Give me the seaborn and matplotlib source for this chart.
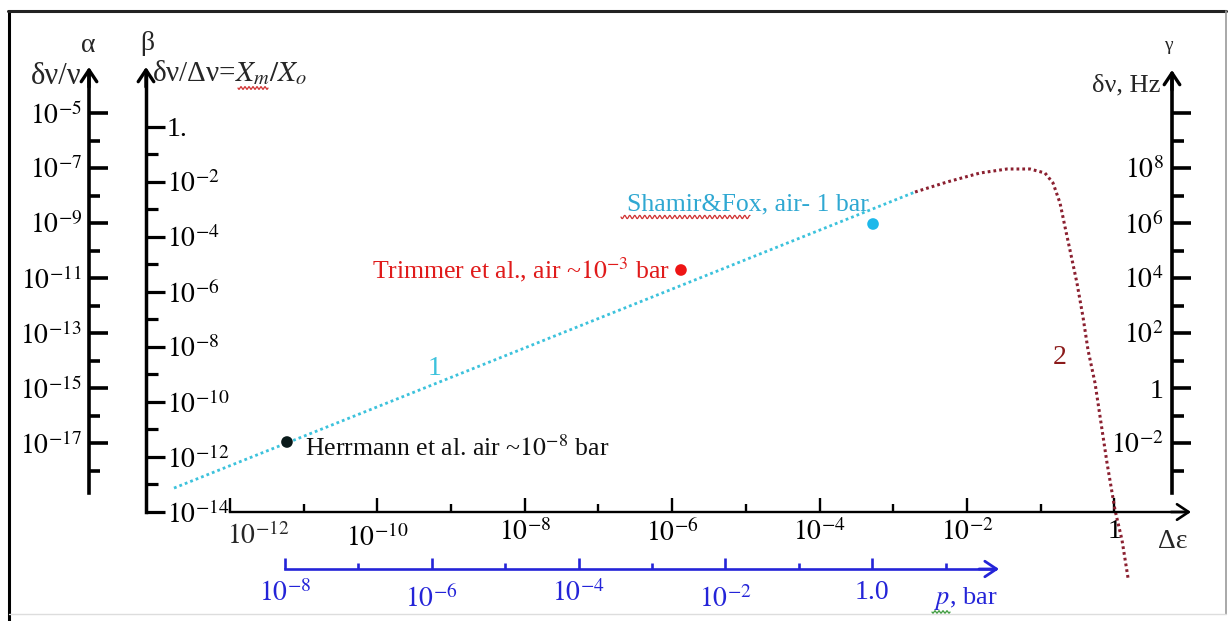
import numpy as np
import pandas as pd
import matplotlib
matplotlib.use("Agg")
import matplotlib.pyplot as plt
import seaborn as sns
from matplotlib.lines import Line2D
from matplotlib.ticker import FixedLocator, FixedFormatter, NullFormatter

# ---------------- data (log10 exponents) ----------------
line1_eps_exp = [-12.76, -2.705]
line1_beta_exp = [-13.13, -2.364]

curve2_eps_exp = [-2.705, -2.271, -1.824, -1.457, -1.145, -0.942, -0.833, -0.738,
                  -0.670, -0.603, -0.508, -0.426, -0.358, -0.263, -0.100, 0.008,
                  0.103, 0.185]
curve2_beta_exp = [-2.364, -2.000, -1.673, -1.527, -1.527, -1.673, -2.036, -2.764,
                   -3.636, -4.473, -5.673, -6.909, -8.109, -9.309, -12.218, -13.927,
                   -15.018, -16.400]

exp_names = ["Herrmann", "Trimmer", "Shamir"]
exp_eps_exp = [-11.227, -5.881, -3.275]
exp_beta_exp = [-11.455, -5.200, -3.527]
exp_labels = ["Herrmann et al. air ~$10^{-8}$ bar",
              "Trimmer et al., air ~$10^{-3}$ bar",
              "Shamir&Fox, air- 1 bar"]

eps_major_exp = [-12, -10, -8, -6, -4, -2, 0]
eps_minor_exp = [-11, -9, -7, -5, -3, -1]
eps_labels = ["", "$10^{-10}$", "$10^{-8}$", "$10^{-6}$", "$10^{-4}$", "$10^{-2}$", "1"]

beta_major_exp = [0, -2, -4, -6, -8, -10, -12, -14]
beta_minor_exp = [-1, -3, -5, -7, -9, -11, -13]
beta_labels = ["1.", "$10^{-2}$", "$10^{-4}$", "$10^{-6}$", "$10^{-8}$",
               "$10^{-10}$", "$10^{-12}$", "$10^{-14}$"]

alpha_major_exp = [-5, -7, -9, -11, -13, -15, -17]
alpha_minor_exp = [-6, -8, -10, -12, -14, -16, -18]
alpha_labels = ["$10^{-5}$", "$10^{-7}$", "$10^{-9}$", "$10^{-11}$",
                "$10^{-13}$", "$10^{-15}$", "$10^{-17}$"]

gamma_major_exp = [10, 8, 6, 4, 2, 0, -2]
gamma_minor_exp = [9, 7, 5, 3, 1, -1, -3]
gamma_labels = ["", "$10^{8}$", "$10^{6}$", "$10^{4}$", "$10^{2}$", "1", "$10^{-2}$"]

p_major_exp = [-8, -6, -4, -2, 0]
p_minor_exp = [-7, -5, -3, -1, 1]
p_labels = ["$10^{-8}$", "$10^{-6}$", "$10^{-4}$", "$10^{-2}$", "1.0"]

# ---------------- style ----------------
sns.set_theme(style="white")
plt.rcParams["font.family"] = ["Liberation Serif", "DejaVu Serif"]
plt.rcParams["mathtext.fontset"] = "stix"
plt.rcParams["axes.linewidth"] = 2.0

W, H = 1229, 621
fig = plt.figure(figsize=(W / 100, H / 100), dpi=100)
fig.patch.set_facecolor("white")

def fx(px):
    return px / W

def fy(py):
    return 1 - py / H

TICK_FS = 20
BLUE = "#2424d8"
CYAN = "#3cc2dc"
DARKRED = "#8b2030"

def arrowhead(axis, x, y, dx, dy, color="black", lw=2.4):
    axis.annotate("", xy=(x, y), xytext=(dx, dy), textcoords="offset pixels",
                  arrowprops=dict(arrowstyle="->,head_length=0.42,head_width=0.28",
                                  lw=lw, color=color, shrinkA=0, shrinkB=0,
                                  mutation_scale=20),
                  annotation_clip=False)

def wavy(x1, x2, y, color, amp=1.6, period=5.0):
    xs = np.linspace(x1, x2, int((x2 - x1) * 3) + 2)
    ys = y + amp * np.sin(2 * np.pi * (xs - x1) / period)
    fig.add_artist(Line2D(xs / W, 1 - ys / H, color=color, lw=0.9))

# ---------------- main axes: Δε (x) vs β (y) ----------------
XPD, YPD = 73.7, 27.5          # pixels per decade
x0 = -12 - 230 / XPD
y0 = -14 - (H - 512) / YPD
ax = fig.add_axes([0, 0, 1, 1])
ax.patch.set_alpha(0)
ax.set_xscale("log")
ax.set_yscale("log")
ax.set_xlim(10 ** x0, 10 ** (x0 + W / XPD))
ax.set_ylim(10 ** y0, 10 ** (y0 + H / YPD))
ax.grid(False)

eps_tip = -12 + (1191 - 230) / XPD
beta_tip = -14 + (512 - 67) / YPD
ax.spines["top"].set_visible(False)
ax.spines["left"].set_visible(False)
ax.spines["bottom"].set_position(("data", 1e-14))
ax.spines["bottom"].set_bounds(1e-12, 10 ** (eps_tip - 0.05))
ax.spines["bottom"].set_linewidth(1.7)
ax.spines["right"].set_position(("axes", 146 / W))
ax.spines["right"].set_bounds(1e-14, 10 ** (beta_tip - 0.2))
ax.spines["right"].set_linewidth(2.5)
for s in ax.spines.values():
    s.set_color("black")

ax.xaxis.set_major_locator(FixedLocator([10.0 ** e for e in eps_major_exp]))
ax.xaxis.set_major_formatter(FixedFormatter(eps_labels))
ax.xaxis.set_minor_locator(FixedLocator([10.0 ** e for e in eps_minor_exp]))
ax.xaxis.set_minor_formatter(NullFormatter())
ax.tick_params(axis="x", which="both", direction="in", bottom=True, top=False,
               width=1.7, color="black", labelsize=TICK_FS, pad=5, labelcolor="black")
ax.tick_params(axis="x", which="major", length=10)
ax.tick_params(axis="x", which="minor", length=5.5)
for i, t in enumerate(ax.xaxis.get_major_ticks()):
    t.set_pad(9 if i == 1 else 5)

ax.yaxis.tick_right()
ax.yaxis.set_major_locator(FixedLocator([10.0 ** e for e in beta_major_exp]))
ax.yaxis.set_major_formatter(FixedFormatter(beta_labels))
ax.yaxis.set_minor_locator(FixedLocator([10.0 ** e for e in beta_minor_exp]))
ax.yaxis.set_minor_formatter(NullFormatter())
ax.tick_params(axis="y", which="both", direction="out", right=True, left=False,
               labelright=True, labelleft=False, width=2.3, color="black",
               labelsize=TICK_FS, pad=1, labelcolor="black")
ax.tick_params(axis="y", which="major", length=14)
ax.tick_params(axis="y", which="minor", length=8.5)

arrowhead(ax, 10 ** eps_tip, 1e-14, -20, 0, lw=1.9)
arrowhead(ax, 10 ** (-12 - 84 / XPD), 10 ** beta_tip, 0, -20)
ax.annotate("$10^{-12}$", xy=(1e-12, 1e-14), xytext=(28, -24), textcoords="offset pixels",
            ha="center", va="center", fontsize=TICK_FS, annotation_clip=False)

# curves
df1 = pd.DataFrame({"eps": np.power(10.0, line1_eps_exp), "beta": np.power(10.0, line1_beta_exp)})
df2 = pd.DataFrame({"eps": np.power(10.0, curve2_eps_exp), "beta": np.power(10.0, curve2_beta_exp)})
sns.lineplot(data=df1, x="eps", y="beta", ax=ax, color=CYAN, lw=2.0,
             linestyle=(0, (1.0, 1.1)), estimator=None, sort=False)
sns.lineplot(data=df2, x="eps", y="beta", ax=ax, color=DARKRED, lw=2.2,
             linestyle=(0, (0.9, 1.0)), estimator=None, sort=False)
for ln in ax.get_lines():
    ln.set_clip_on(False)
    ln.set_dash_capstyle("butt")

dfp = pd.DataFrame({"eps": np.power(10.0, exp_eps_exp), "beta": np.power(10.0, exp_beta_exp),
                    "name": exp_names})
sns.scatterplot(data=dfp, x="eps", y="beta", hue="name", ax=ax, s=70, linewidth=0,
                palette={"Herrmann": "#0a1a1a", "Trimmer": "#ee1515", "Shamir": "#1db8ea"},
                legend=False, zorder=5)
ax.set_xlabel("")
ax.set_ylabel("")

txt_cfg = [((18, -6), "left", "#111111"),
           ((-11, 0), "right", "#e01b1b"),
           ((-4, 20), "right", "#2fa8d2")]
for (e, b, lab, (off, ha, col)) in zip(exp_eps_exp, exp_beta_exp, exp_labels, txt_cfg):
    ax.annotate(lab, xy=(10 ** e, 10 ** b), xytext=off, textcoords="offset pixels",
                ha=ha, va="center", fontsize=18.5, color=col)

ax.annotate("1", xy=(10 ** -9.218, 10 ** -8.764), ha="center", va="center",
            fontsize=20, color=CYAN)
ax.annotate("2", xy=(10 ** -0.738, 10 ** -8.364), ha="center", va="center",
            fontsize=20, color="#8b1a1a")

# ---------------- α axis ----------------
AY0 = -5 - (H - 113) / YPD
axa = fig.add_axes([0, 0, 1, 1])
axa.patch.set_alpha(0)
axa.set_yscale("log")
axa.set_xlim(0, 1)
axa.set_ylim(10 ** AY0, 10 ** (AY0 + H / YPD))
axa.grid(False)
for s in ["top", "right", "bottom"]:
    axa.spines[s].set_visible(False)
axa.xaxis.set_visible(False)
a_bot = -5 - (493 - 113) / YPD
a_tip = -5 + (113 - 67) / YPD
axa.spines["left"].set_position(("axes", 89 / W))
axa.spines["left"].set_bounds(10 ** a_bot, 10 ** (a_tip - 0.2))
axa.spines["left"].set_linewidth(2.6)
axa.spines["left"].set_color("black")
axa.yaxis.set_major_locator(FixedLocator([10.0 ** e for e in alpha_major_exp]))
axa.yaxis.set_major_formatter(FixedFormatter(alpha_labels))
axa.yaxis.set_minor_locator(FixedLocator([10.0 ** e for e in alpha_minor_exp]))
axa.yaxis.set_minor_formatter(NullFormatter())
axa.tick_params(axis="y", which="both", direction="in", left=True, right=False,
                width=2.6, color="black", labelsize=TICK_FS, pad=5, labelcolor="black")
axa.tick_params(axis="y", which="major", length=13.5)
axa.tick_params(axis="y", which="minor", length=8)
arrowhead(axa, 89 / W, 10 ** a_tip, 0, -20)

# ---------------- γ axis ----------------
GY0 = 8 - (H - 168) / YPD
axg = fig.add_axes([0, 0, 1, 1])
axg.patch.set_alpha(0)
axg.set_yscale("log")
axg.set_xlim(0, 1)
axg.set_ylim(10 ** GY0, 10 ** (GY0 + H / YPD))
axg.grid(False)
for s in ["top", "right", "bottom"]:
    axg.spines[s].set_visible(False)
axg.xaxis.set_visible(False)
g_bot = 8 - (493 - 168) / YPD
g_tip = 8 + (168 - 70) / YPD
axg.spines["left"].set_position(("axes", 1172 / W))
axg.spines["left"].set_bounds(10 ** g_bot, 10 ** (g_tip - 0.2))
axg.spines["left"].set_linewidth(2.6)
axg.spines["left"].set_color("black")
axg.yaxis.set_major_locator(FixedLocator([10.0 ** e for e in gamma_major_exp]))
axg.yaxis.set_major_formatter(FixedFormatter(gamma_labels))
axg.yaxis.set_minor_locator(FixedLocator([10.0 ** e for e in gamma_minor_exp]))
axg.yaxis.set_minor_formatter(NullFormatter())
axg.tick_params(axis="y", which="both", direction="in", left=True, right=False,
                width=2.6, color="black", labelsize=TICK_FS, pad=6, labelcolor="black")
axg.tick_params(axis="y", which="major", length=14)
axg.tick_params(axis="y", which="minor", length=8.5)
arrowhead(axg, 1172 / W, 10 ** g_tip, 0, -20)

# ---------------- p axis ----------------
PPD = 73.4
PX0 = -8 - 285 / PPD
P_AXIS_Y = (H - 569) / H
axp = fig.add_axes([0, 0, 1, 1])
axp.patch.set_alpha(0)
axp.set_xscale("log")
axp.set_xlim(10 ** PX0, 10 ** (PX0 + W / PPD))
axp.set_ylim(0, 1)
axp.grid(False)
for s in ["top", "right", "left"]:
    axp.spines[s].set_visible(False)
axp.yaxis.set_visible(False)
p_tip = -8 + (999 - 285) / PPD
axp.spines["bottom"].set_position(("axes", P_AXIS_Y))
axp.spines["bottom"].set_bounds(1e-8, 10 ** (p_tip - 0.05))
axp.spines["bottom"].set_linewidth(1.9)
axp.spines["bottom"].set_color(BLUE)
axp.xaxis.set_major_locator(FixedLocator([10.0 ** e for e in p_major_exp]))
axp.xaxis.set_major_formatter(FixedFormatter(p_labels))
axp.xaxis.set_minor_locator(FixedLocator([10.0 ** e for e in p_minor_exp]))
axp.xaxis.set_minor_formatter(NullFormatter())
axp.tick_params(axis="x", which="both", direction="in", bottom=True, top=False,
                width=1.9, color=BLUE, labelsize=TICK_FS, pad=8, labelcolor=BLUE)
axp.tick_params(axis="x", which="major", length=8)
axp.tick_params(axis="x", which="minor", length=4.5)
for i, t in enumerate(axp.xaxis.get_major_ticks()):
    t.set_pad(12 if i in (1, 3) else 8)
arrowhead(axp, 10 ** p_tip, P_AXIS_Y, -20, 0, color=BLUE, lw=2.0)

# ---------------- axis titles ----------------
fig.text(fx(88), fy(46), "α", ha="center", va="center", fontsize=20)
fig.text(fx(81), fy(76), "δν/ν", ha="right", va="center", fontsize=22)
fig.text(fx(147), fy(43), "β", ha="center", va="center", fontsize=20)
fig.text(fx(152), fy(73), r"δν/Δν=$X_m/X_o$", ha="left", va="center", fontsize=21)
fig.text(fx(1168), fy(46), "γ", ha="center", va="center", fontsize=14)
fig.text(fx(1160), fy(85), "δν, Hz", ha="right", va="center", fontsize=19)
fig.text(fx(1173), fy(541), "Δε", ha="center", va="center", fontsize=20)
fig.text(fx(966), fy(598), "$p$, bar", ha="center", va="center", fontsize=19, color=BLUE)

# spell-check squiggles as in the source screenshot
wavy(621, 750, 217, "#d03030")
wavy(238, 268, 88, "#d03030", amp=1.3, period=4.0)
wavy(932, 950, 612, "#3a9a3a", amp=1.2, period=4.0)

# ---------------- frame ----------------
fig.add_artist(Line2D([fx(9), fx(9)], [fy(621), fy(11)], color="black", lw=2.2))
fig.add_artist(Line2D([fx(8), fx(1226)], [fy(11), fy(11)], color="#222222", lw=2.2))
fig.add_artist(Line2D([fx(1226), fx(1226)], [fy(11), fy(614)], color="#9a9a9a", lw=1.2))
fig.add_artist(Line2D([fx(9), fx(1226)], [fy(614), fy(614)], color="#dddddd", lw=1.0))

fig.savefig("out.png", dpi=100, facecolor="white")
